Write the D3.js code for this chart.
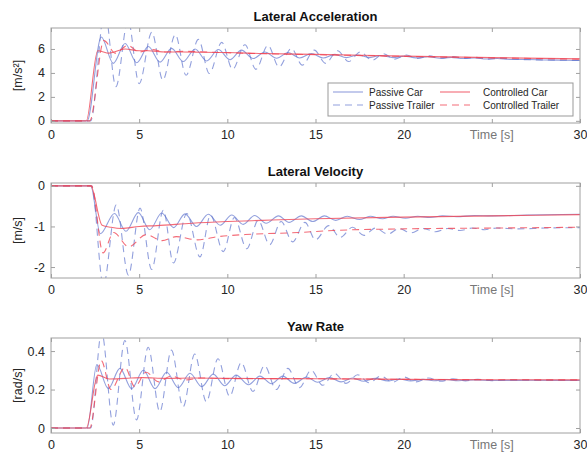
<!DOCTYPE html>
<html><head><meta charset="utf-8">
<script src="https://cdn.jsdelivr.net/npm/d3@7"></script>
<style>body{margin:0;background:#fff}svg{display:block}text{font-family:"Liberation Sans",Arial,Helvetica,sans-serif}</style>
</head><body><div id="chart"></div>
<script>
// ---------- DATA (times [s] and values) ----------
const titles = ["Lateral Acceleration", "Lateral Velocity", "Yaw Rate"];
const yLabels = ["[m/s²]", "[m/s]", "[rad/s]"];
const xTicks = [0, 5, 10, 15, 20, 25, 30];
const xTickLabels = ["0", "5", "10", "15", "20", "", "30"];
const yTicksAcc = [0, 2, 4, 6];
const yTicksVel = [-2, -1, 0];
const yTicksYaw = [0, 0.2, 0.4];
const seriesNames = ["Passive Car", "Passive Trailer", "Controlled Car", "Controlled Trailer"];

// Lateral acceleration
const accPassiveCarT = [0,2.05,2.85,3.53,4.2,4.86,5.52,6.18,6.84,7.5,8.17,8.83,9.49,10.15,10.8,11.47,12.13,12.8,13.45,14.1,14.77,15.43,16.1,16.75,17.4,18.07,18.7,19.4,20.05,20.7,21.4,22.05,22.7,23.35,24.0,24.7,25.3,26,27,28,29,30];
const accPassiveCarV = [0,0,7.0,4.8,6.45,4.85,6.2,4.9,6.05,4.95,6.0,5.0,5.95,5.1,5.9,5.2,5.75,5.22,5.7,5.25,5.62,5.25,5.55,5.28,5.5,5.28,5.45,5.28,5.4,5.26,5.35,5.22,5.3,5.2,5.25,5.16,5.2,5.12,5.12,5.08,5.06,5.04];
const accPassiveTrailerT = [0,2.25,3.05,3.68,4.37,5.0,5.72,6.34,7.05,7.66,8.36,8.98,9.68,10.3,11.0,11.62,12.3,12.93,13.63,14.25,14.93,15.57,16.25,16.88,17.55,18.2,18.85,19.5,20.15,20.8,21.45,22.1,22.8,23.45,24.1,24.75,25.5,26.5,28,30];
const accPassiveTrailerV = [0,0,9.2,2.85,8.4,3.1,7.4,3.4,7.2,3.8,6.8,3.95,6.55,4.3,6.35,4.3,6.3,4.5,6.05,4.65,5.9,4.8,5.85,4.95,5.75,5.05,5.6,5.15,5.5,5.2,5.42,5.22,5.36,5.2,5.3,5.15,5.22,5.12,5.08,5.04];
const accControlledCarT = [0,2.0,2.65,3.3,4.2,5.0,5.5,6.5,7.5,8.5,10,12,15,20,25,30];
const accControlledCarV = [0,0,5.85,5.65,6.0,5.85,5.85,5.75,5.75,5.72,5.7,5.62,5.55,5.4,5.28,5.17];
const accControlledTrailerT = [0,2.2,3.0,3.65,4.35,5.0,5.7,6.5,7.5,10,15,20,25,30];
const accControlledTrailerV = [0,0,6.7,5.65,6.3,5.75,5.95,5.75,5.8,5.68,5.52,5.38,5.26,5.15];

// Lateral velocity
const velPassiveCarT = [0,2.25,2.8,3.6,4.25,4.95,5.6,6.28,6.95,7.6,8.25,8.92,9.6,10.25,10.9,11.55,12.2,12.9,13.5,14.2,14.85,15.5,16.15,16.8,17.5,18.1,18.8,19.4,20.1,20.8,21.5,22.2,23,24,25,27,30];
const velPassiveCarV = [0,0,-1.18,-0.68,-1.12,-0.66,-1.08,-0.67,-1.03,-0.69,-1.0,-0.7,-0.97,-0.72,-0.95,-0.73,-0.92,-0.74,-0.9,-0.74,-0.88,-0.74,-0.85,-0.75,-0.83,-0.75,-0.81,-0.75,-0.8,-0.75,-0.78,-0.74,-0.76,-0.73,-0.74,-0.72,-0.7];
const velPassiveTrailerT = [0,2.3,2.97,3.7,4.39,5.05,5.71,6.37,6.94,7.7,8.45,9.05,9.77,10.4,11.1,11.75,12.4,13.05,13.7,14.4,15.0,15.75,16.4,17.1,17.75,18.4,19.1,19.75,20.4,21.1,21.8,22.5,23.2,23.9,24.6,25.3,26.5,28,30];
const velPassiveTrailerV = [0,0,-2.45,-0.47,-2.2,-0.55,-2.06,-0.6,-1.9,-0.68,-1.75,-0.72,-1.62,-0.78,-1.55,-0.85,-1.45,-0.88,-1.38,-0.9,-1.33,-0.98,-1.27,-1.02,-1.22,-1.04,-1.19,-1.05,-1.16,-1.05,-1.13,-1.05,-1.1,-1.04,-1.08,-1.04,-1.06,-1.04,-1.03];
const velControlledCarT = [0,2.25,2.9,3.4,4.0,5.0,6,8,10,12,15,20,25,30];
const velControlledCarV = [0,0,-0.97,-1.02,-1.05,-1.0,-0.98,-0.92,-0.88,-0.85,-0.81,-0.77,-0.74,-0.71];
const velControlledTrailerT = [0,2.3,2.95,3.55,4.4,5.4,6.3,7.1,8.3,9.5,11,14,16,20,25,30];
const velControlledTrailerV = [0,0,-1.65,-1.15,-1.5,-1.2,-1.35,-1.25,-1.33,-1.25,-1.2,-1.15,-1.1,-1.06,-1.04,-1.02];

// Yaw rate
const yawPassiveCarT = [0,2.05,2.6,3.25,3.91,4.57,5.24,5.9,6.56,7.22,7.88,8.55,9.2,9.85,10.5,11.2,11.85,12.5,13.15,13.8,14.5,15.1,15.8,16.45,17.1,17.75,18.4,19.1,19.75,20.4,21.1,21.7,22.4,23.1,24,25,27,30];
const yawPassiveCarV = [0,0,0.33,0.205,0.31,0.205,0.3,0.205,0.29,0.21,0.285,0.215,0.28,0.22,0.275,0.225,0.27,0.23,0.27,0.232,0.265,0.238,0.262,0.24,0.26,0.243,0.258,0.245,0.255,0.245,0.253,0.246,0.252,0.246,0.25,0.247,0.248,0.247];
const yawPassiveTrailerT = [0,2.25,2.87,3.53,4.19,4.85,5.51,6.17,6.83,7.49,8.15,8.81,9.47,10.13,10.79,11.45,12.11,12.77,13.43,14.09,14.75,15.41,16.07,16.73,17.39,18.05,18.71,19.37,20.03,20.7,21.4,22.1,22.8,23.5,24.2,25,26,28,30];
const yawPassiveTrailerV = [0,0,0.5,0.015,0.455,0.042,0.42,0.085,0.405,0.11,0.385,0.137,0.36,0.165,0.34,0.19,0.325,0.2,0.31,0.21,0.3,0.222,0.285,0.232,0.277,0.235,0.27,0.238,0.265,0.24,0.26,0.243,0.256,0.245,0.253,0.246,0.25,0.248,0.248];
const yawControlledCarT = [0,2.0,2.65,3.3,4.2,5.2,6.5,8,10,15,20,25,30];
const yawControlledCarV = [0,0,0.275,0.255,0.258,0.262,0.258,0.26,0.258,0.256,0.253,0.251,0.25];
const yawControlledTrailerT = [0,2.2,2.85,3.4,4.2,4.75,5.4,6.1,6.8,7.6,8.5,10,15,20,30];
const yawControlledTrailerV = [0,0,0.35,0.2,0.315,0.215,0.29,0.24,0.27,0.25,0.26,0.257,0.256,0.253,0.25];

// ---------- CHART ----------
const W = 587, H = 456;
const blue = "rgba(95,115,205,0.68)", red = "rgba(240,70,85,0.8)";
const styles = [
  {color: blue, dash: null}, {color: blue, dash: "7,5"},
  {color: red, dash: null}, {color: red, dash: "7,5"}
];
const panels = [
  {top: 28, bottom: 123, domain: [-0.18, 7.75], ticks: yTicksAcc, fmt: d => d,
   series: [[accPassiveCarT, accPassiveCarV],[accPassiveTrailerT, accPassiveTrailerV],[accControlledCarT, accControlledCarV],[accControlledTrailerT, accControlledTrailerV]]},
  {top: 183, bottom: 278, domain: [-2.27, 0.07], ticks: yTicksVel, fmt: d => d,
   series: [[velPassiveCarT, velPassiveCarV],[velPassiveTrailerT, velPassiveTrailerV],[velControlledCarT, velControlledCarV],[velControlledTrailerT, velControlledTrailerV]]},
  {top: 338, bottom: 433, domain: [-0.026, 0.468], ticks: yTicksYaw, fmt: d => d,
   series: [[yawPassiveCarT, yawPassiveCarV],[yawPassiveTrailerT, yawPassiveTrailerV],[yawControlledCarT, yawControlledCarV],[yawControlledTrailerT, yawControlledTrailerV]]}
];
const left = 51, right = 580;
const x = d3.scaleLinear().domain([0, 30]).range([left, right]);
const svg = d3.select("#chart").append("svg").attr("width", W).attr("height", H);
const axisCol = "#a0a0a0", textCol = "#262626";

panels.forEach((p, i) => {
  const y = d3.scaleLinear().domain(p.domain).range([p.bottom, p.top]);
  const g = svg.append("g");
  const cid = "clip" + i;
  svg.append("clipPath").attr("id", cid).append("rect")
    .attr("x", left).attr("y", p.top).attr("width", right - left).attr("height", p.bottom - p.top);
  g.append("rect").attr("x", left).attr("y", p.top).attr("width", right - left).attr("height", p.bottom - p.top).attr("fill", "#fff");

  const lines = g.append("g").attr("clip-path", `url(#${cid})`);
  const lineGen = d3.line().x(d => x(d[0])).y(d => y(d[1])).curve(d3.curveMonotoneX);
  p.series.forEach((s, k) => {
    const pts = s[0].map((t, j) => [t, s[1][j]]);
    lines.append("path").attr("d", lineGen(pts)).attr("fill", "none")
      .attr("stroke", styles[k].color).attr("stroke-width", 1.1)
      .attr("stroke-dasharray", styles[k].dash);
  });

  // axes
  const xb = d3.axisBottom(x).tickValues(xTicks).tickSizeInner(-4).tickSizeOuter(0).tickPadding(7)
    .tickFormat((d, j) => xTickLabels[j]);
  const xt = d3.axisTop(x).tickValues(xTicks).tickSizeInner(-4).tickSizeOuter(0).tickFormat("");
  const yl = d3.axisLeft(y).tickValues(p.ticks).tickSizeInner(-4).tickSizeOuter(0).tickPadding(6).tickFormat(p.fmt);
  const yr = d3.axisRight(y).tickValues(p.ticks).tickSizeInner(-4).tickSizeOuter(0).tickFormat("");
  const styleAxis = sel => {
    sel.select(".domain").remove();
    sel.selectAll("line").attr("stroke", axisCol);
    sel.selectAll("text").attr("fill", textCol).style("font-size", "12.5px");
  };
  g.append("g").attr("transform", `translate(0,${p.bottom})`).call(xb).call(styleAxis);
  g.append("g").attr("transform", `translate(0,${p.top})`).call(xt).call(styleAxis);
  g.append("g").attr("transform", `translate(${left},0)`).call(yl).call(styleAxis);
  g.append("g").attr("transform", `translate(${right},0)`).call(yr).call(styleAxis);
  g.append("rect").attr("x", left).attr("y", p.top).attr("width", right - left).attr("height", p.bottom - p.top)
    .attr("fill", "none").attr("stroke", axisCol).attr("stroke-width", 1);

  g.append("text").attr("x", (left + right) / 2).attr("y", p.top - 7).attr("text-anchor", "middle")
    .attr("font-weight", "bold").attr("font-size", "13px").attr("fill", "#111").text(titles[i]);
  g.append("text").attr("transform", `translate(${22},${(p.top + p.bottom) / 2}) rotate(-90)`)
    .attr("text-anchor", "middle").attr("font-size", "12.5px").attr("fill", textCol).text(yLabels[i]);
  g.append("text").attr("x", x(25)).attr("y", p.bottom + 16).attr("text-anchor", "middle")
    .attr("font-size", "12.5px").attr("fill", "#777").text("Time [s]");

  if (i === 0) {
    const lg = g.append("g");
    lg.append("rect").attr("x", 328).attr("y", 83).attr("width", 245).attr("height", 33)
      .attr("fill", "#fff").attr("stroke", "#999");
    const pos = [[333, 92], [333, 105], [440, 92], [440, 105]];
    const textX = [369, 369, 483, 483];
    seriesNames.forEach((n, k) => {
      lg.append("line").attr("x1", pos[k][0]).attr("x2", pos[k][0] + 30).attr("y1", pos[k][1]).attr("y2", pos[k][1])
        .attr("stroke", styles[k].color).attr("stroke-width", 1.1).attr("stroke-dasharray", styles[k].dash);
      lg.append("text").attr("x", textX[k]).attr("y", pos[k][1] + 3.5).attr("font-size", "10px")
        .attr("fill", textCol).text(n);
    });
  }
});
</script></body></html>
